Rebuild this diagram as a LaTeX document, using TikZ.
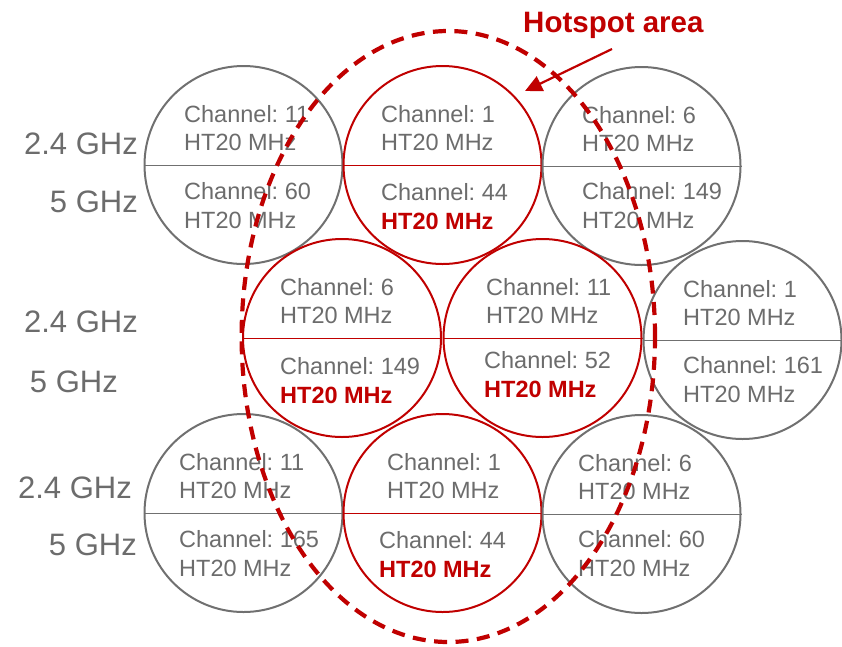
\documentclass[tikz,border=0pt]{standalone}
\usepackage{fontspec}
\setmainfont{Liberation Sans}
\usetikzlibrary{arrows.meta}
\frenchspacing
\definecolor{hotred}{RGB}{192,0,0}
\definecolor{txtgray}{RGB}{108,108,108}
\definecolor{ringgray}{RGB}{112,112,112}
% #1 name, #2 cx, #3 cy, #4 kind (gray/red), #5 top text x, #6 bottom text x,
% #7 2.4 GHz channel, #8 5 GHz channel, #9 offset of lower baseline
\newcommand\apcell[9]{%
  \node[#4circ] (#1) at (#2,#3) {};
  \draw[#4div] (#1.west) -- (#1.east);
  \node[lbl] (#1-a) at (#5,#3-43) {Channel: #7};
  \node[lbl] (#1-b) at (#5,#3-15) {HT20 MHz};
  \node[lbl] (#1-c) at (#6,#3+#9) {Channel: #8};
  \node[#4last] (#1-d) at (#6,#3+#9+29) {HT20 MHz};
}
\begin{document}
\begin{tikzpicture}[x=1pt,y=-1pt,
  graycirc/.style={circle, draw=ringgray, line width=2pt, minimum size=198pt, inner sep=0pt},
  redcirc/.style={circle, draw=hotred, line width=2pt, minimum size=198pt, inner sep=0pt},
  graydiv/.style={draw=ringgray, line width=0.9pt},
  reddiv/.style={draw=hotred, line width=0.9pt},
  lbl/.style={text=txtgray, font=\fontsize{23.5}{28}\selectfont, inner sep=0pt, anchor=base west},
  graylast/.style={lbl},
  redlast/.style={lbl, text=hotred, font=\fontsize{23.5}{28}\selectfont\bfseries},
  band/.style={text=txtgray, font=\fontsize{31}{36}\selectfont, inner sep=0pt, anchor=base east},
  hotdash/.style={draw=hotred, line width=4.2pt, dash pattern=on 13pt off 8.5pt},
  hotarrow/.style={draw=hotred, line width=2.2pt, -{Triangle[length=17pt,width=16pt]}},
  hottitle/.style={text=hotred, font=\fontsize{29.5}{34}\selectfont\bfseries, inner sep=0pt, anchor=base west}
]
\useasboundingbox (0,0) rectangle (842,646);

% row 1
\apcell{r1a}{243.5}{165}{gray}{184}{184}{11}{60}{34}
\apcell{r1b}{442.5}{165}{red}{381}{381}{1}{44}{35}
\apcell{r1c}{641.5}{166}{gray}{582}{582}{6}{149}{33}
% row 2
\apcell{r2a}{342}{338}{red}{280}{280}{6}{149}{36}
\apcell{r2b}{542.5}{338}{red}{486}{484}{11}{52}{30}
\apcell{r2c}{742.5}{340}{gray}{683}{683}{1}{161}{33}
% row 3
\apcell{r3a}{243.5}{513}{gray}{179}{179}{11}{165}{34}
\apcell{r3b}{442.5}{513}{red}{387}{379}{1}{44}{35}
\apcell{r3c}{641.5}{514}{gray}{578}{578}{6}{60}{33}

% band labels
\node[band] (b1a) at (138,154) {2.4 GHz};
\node[band] (b1b) at (138,212) {5 GHz};
\node[band] (b2a) at (138,332) {2.4 GHz};
\node[band] (b2b) at (118,392) {5 GHz};
\node[band] (b3a) at (132,498) {2.4 GHz};
\node[band] (b3b) at (137,555) {5 GHz};

% hotspot area
\draw[hotdash] (448.3,336.5) ellipse [x radius=206.7pt, y radius=305.5pt];
\node[hottitle] (title) at (523,32) {Hotspot area};
\coordinate (arrfrom) at (612,49);
\coordinate (arrto) at (525,91);
\draw[hotarrow] (arrfrom) -- (arrto);
\end{tikzpicture}
\end{document}
